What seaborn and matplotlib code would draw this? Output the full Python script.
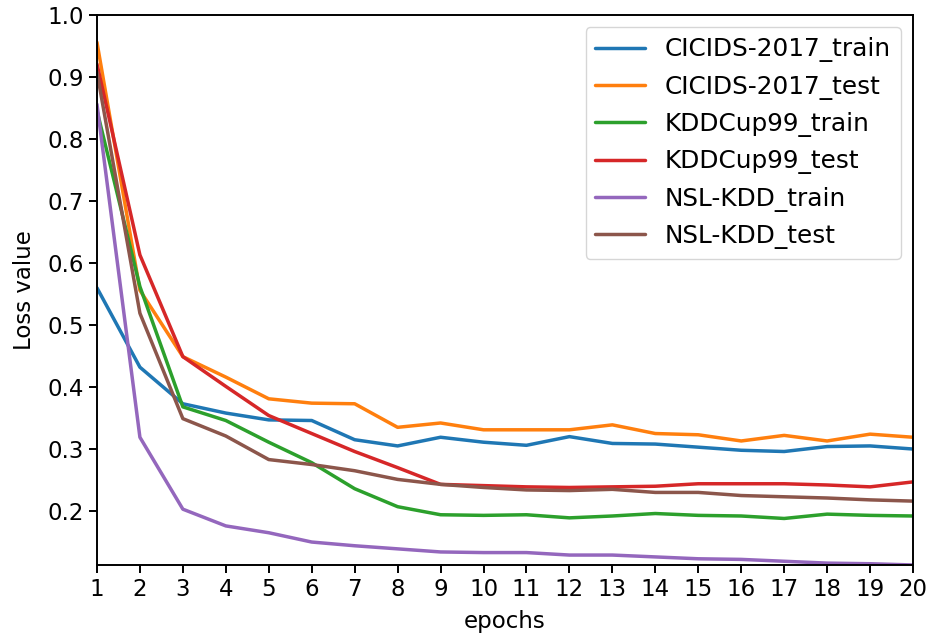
import matplotlib
matplotlib.use("Agg")
import matplotlib.pyplot as plt
import seaborn as sns
import pandas as pd

epochs = list(range(1, 21))

cicids_train = [0.560, 0.432, 0.373, 0.358, 0.347, 0.346, 0.315, 0.305, 0.319, 0.311,
                0.306, 0.320, 0.309, 0.308, 0.303, 0.298, 0.296, 0.304, 0.305, 0.300]
cicids_test = [0.956, 0.556, 0.449, 0.416, 0.381, 0.374, 0.373, 0.335, 0.342, 0.331,
               0.331, 0.331, 0.339, 0.325, 0.323, 0.313, 0.322, 0.313, 0.324, 0.319]
kdd_train = [0.846, 0.562, 0.368, 0.346, 0.311, 0.278, 0.236, 0.207, 0.194, 0.193,
             0.194, 0.189, 0.192, 0.196, 0.193, 0.192, 0.188, 0.195, 0.193, 0.192]
kdd_test = [0.921, 0.613, 0.449, 0.401, 0.354, 0.325, 0.296, 0.270, 0.243, 0.241,
            0.239, 0.238, 0.239, 0.240, 0.244, 0.244, 0.244, 0.242, 0.239, 0.247]
nsl_train = [0.856, 0.319, 0.203, 0.176, 0.165, 0.150, 0.144, 0.139, 0.134, 0.133,
             0.133, 0.129, 0.129, 0.126, 0.123, 0.122, 0.119, 0.116, 0.115, 0.113]
nsl_test = [0.908, 0.519, 0.349, 0.321, 0.283, 0.275, 0.265, 0.251, 0.243, 0.238,
            0.234, 0.233, 0.235, 0.230, 0.230, 0.225, 0.223, 0.221, 0.218, 0.216]

series_names = ["CICIDS-2017_train", "CICIDS-2017_test", "KDDCup99_train",
                "KDDCup99_test", "NSL-KDD_train", "NSL-KDD_test"]
series_values = [cicids_train, cicids_test, kdd_train, kdd_test, nsl_train, nsl_test]

rows = []
for name, vals in zip(series_names, series_values):
    for e, v in zip(epochs, vals):
        rows.append({"epoch": e, "loss": v, "series": name})
df = pd.DataFrame(rows)

sns.set_style("ticks")
plt.rcParams["font.family"] = ["DejaVu Sans"]
plt.rcParams["text.color"] = "black"
plt.rcParams["axes.labelcolor"] = "black"
plt.rcParams["xtick.color"] = "black"
plt.rcParams["ytick.color"] = "black"

fig = plt.figure(figsize=(9.35, 6.41), dpi=100)
ax = fig.add_axes([0.1037, 0.1186, 0.8728, 0.858])

sns.lineplot(data=df, x="epoch", y="loss", hue="series", hue_order=series_names,
             palette="tab10", linewidth=2.5, ax=ax)

ax.set_xlim(1, 20)
ax.set_ylim(0.113, 1.0)
ax.set_xticks(epochs)
ax.set_yticks([0.2, 0.3, 0.4, 0.5, 0.6, 0.7, 0.8, 0.9, 1.0])
ax.tick_params(axis="both", labelsize=16.5, length=6, width=1.4,
               colors="black", labelcolor="black")
for sp in ax.spines.values():
    sp.set_linewidth(1.4)
    sp.set_color("black")

ax.set_xlabel("epochs", fontsize=16.5, labelpad=6)
ax.set_ylabel("Loss value", fontsize=16.5, labelpad=8)

leg = ax.legend(loc="upper right", fontsize=17.8, frameon=True,
                borderaxespad=0.5, handlelength=2.0)
leg.get_frame().set_edgecolor("#cccccc")
for line in leg.get_lines():
    line.set_linewidth(2.5)
for txt in leg.get_texts():
    txt.set_color("black")

fig.savefig("out.png", dpi=100)
